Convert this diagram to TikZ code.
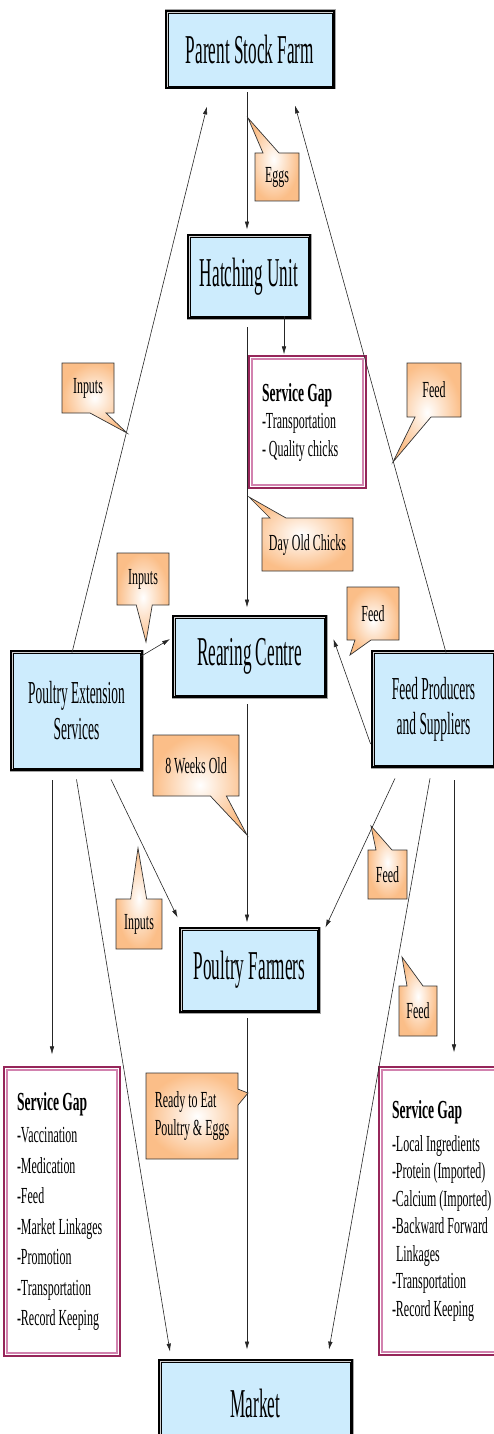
\documentclass[tikz,border=0pt]{standalone}
\usepackage{fontspec}
\setmainfont{Liberation Serif}[FakeStretch=0.52]
\newfontfamily\boxfont{Liberation Serif}[FakeStretch=0.42]
\usetikzlibrary{shapes.callouts,arrows.meta}

\definecolor{boxblue}{RGB}{205,236,253}
\definecolor{tagorange}{RGB}{251,190,136}
\definecolor{gapred}{RGB}{150,38,90}
\definecolor{gappink}{RGB}{210,130,175}

\begin{document}
\begin{tikzpicture}[x=1pt, y=-1pt,
    >={Latex[length=8pt,width=4.5pt]},
    flow/.style={->, black!85, line width=0.6pt},
    unit/.style={rectangle, fill=boxblue, draw=black, line width=0.8pt,
        preaction={draw=gray!70, line width=7pt},
        preaction={draw=black, line width=6pt},
        preaction={draw=gray!35, line width=2.2pt},
        align=center, inner sep=0pt, font=\boxfont\fontsize{41}{46}\selectfont},
    gap/.style={rectangle, fill=white, draw=gappink, line width=1.2pt,
        preaction={draw=gapred, line width=7.5pt},
        preaction={draw=white, line width=3.5pt},
        align=flush left, inner xsep=10pt, inner ysep=0pt},
    tag/.style={rectangle callout, draw=black!80, line width=0.7pt,
        inner color=white, outer color=tagorange,
        callout pointer width=16pt, inner sep=0pt, align=center,
        font=\fontsize{23}{28}\selectfont}
]
    % Page frame, same size as the reference
    \useasboundingbox (0,0) rectangle (493,1434);

    % Main stages of the chain, top to bottom
    \node[unit, minimum width=164pt, minimum height=73pt] (psf) at (250,49.5) {Parent Stock Farm};
    \node[unit, minimum width=118pt, minimum height=79pt] (hu) at (249,276.5) {Hatching Unit};
    \node[unit, minimum width=149pt, minimum height=77pt] (rc) at (249.5,656.5) {Rearing Centre};
    \node[unit, minimum width=135pt, minimum height=80pt] (pf) at (249.5,970) {Poultry Farmers};
    \node[unit, minimum width=189pt, minimum height=82pt] (mk) at (255.5,1403) {Market};

    % Side suppliers
    \node[unit, minimum width=127pt, minimum height=115pt,
          font=\boxfont\fontsize{32}{36}\selectfont] (pes) at (76.5,710.5) {Poultry Extension\\Services};
    \node[unit, minimum width=119pt, minimum height=112pt,
          font=\boxfont\fontsize{32}{35}\selectfont] (fps) at (433.5,709) {Feed Producers\\and Suppliers};

    % Service gap boxes
    \node[gap, text width=91pt, minimum height=126pt, font=\fontsize{23}{27.5}\selectfont] (gaphu) at (307.5,422)
        {{\bfseries\fontsize{26}{28}\selectfont Service Gap}\\-Transportation\\- Quality chicks};
    \node[gap, text width=90pt, minimum height=283pt, font=\fontsize{23}{30.5}\selectfont] (gappes) at (62,1211.5)
        {{\bfseries\fontsize{26}{28}\selectfont Service Gap}\\[2pt]-Vaccination\\-Medication\\-Feed\\-Market Linkages\\-Promotion\\-Transportation\\-Record Keeping};
    \node[gap, text width=107pt, minimum height=282pt, font=\fontsize{23}{27.5}\selectfont] (gapfps) at (445.5,1211)
        {{\bfseries\fontsize{26}{28}\selectfont Service Gap}\\[5pt]-Local Ingredients\\-Protein (Imported)\\-Calcium (Imported)\\-Backward Forward\\\hspace*{4pt}Linkages\\-Transportation\\-Record Keeping};

    % Flows between the stages
    \draw[flow] ([xshift=-3pt,yshift=-6pt]psf.south) -- ([xshift=-2pt,yshift=7pt]hu.north);
    \draw[flow] ([xshift=35pt]hu.south) -- ([xshift=-23.5pt,yshift=4pt]gaphu.north);
    \draw[flow] ([xshift=-2pt,yshift=-11pt]hu.south) -- ([xshift=-2.5pt,yshift=10pt]rc.north);
    \draw[flow] ([xshift=-2.5pt,yshift=-9pt]rc.south) -- ([xshift=-2.5pt,yshift=7pt]pf.north);
    \draw[flow] ([xshift=-2.5pt,yshift=-8pt]pf.south) -- ([xshift=-8.5pt,yshift=12pt]mk.north);

    % Flows out of the extension services
    \draw[flow] ([xshift=-4.5pt]pes.north) -- ([xshift=-43pt,yshift=-20pt]psf.south);
    \draw[flow] ([yshift=-4pt]pes.north east) -- ([xshift=-4.5pt,yshift=17.5pt]rc.west);
    \draw[flow] ([xshift=34.5pt,yshift=-11pt]pes.south) -- ([xshift=-4pt,yshift=12pt]pf.north west);
    \draw[flow] ([xshift=-24.5pt,yshift=-12pt]pes.south) -- ([xshift=-10pt,yshift=15pt]gappes.north);
    \draw[flow] ([yshift=-11pt]pes.south) -- ([xshift=-85.5pt,yshift=10pt]mk.north);

    % Flows out of the feed producers
    \draw[flow] ([xshift=12.5pt]fps.north) -- ([xshift=45pt,yshift=-19pt]psf.south);
    \draw[flow] ([xshift=-3pt,yshift=-35pt]fps.west) -- ([xshift=9pt,yshift=17.5pt]rc.east);
    \draw[flow] ([xshift=-38.5pt,yshift=-13pt]fps.south) -- ([xshift=8pt,yshift=2pt]pf.north east);
    \draw[flow] ([xshift=20.5pt,yshift=-15pt]fps.south) -- ([xshift=8.5pt,yshift=17pt]gapfps.north);
    \draw[flow] ([xshift=-3.5pt,yshift=-13pt]fps.south) -- ([xshift=73.5pt,yshift=12pt]mk.north);

    % Labels on the flows
    \node[tag, minimum width=44pt, minimum height=48pt, callout absolute pointer={(248,118)}] (eggs) at (277,177) {Eggs};
    \node[tag, minimum width=52pt, minimum height=50pt, callout absolute pointer={(127,433)}] (inputsa) at (88,388) {Inputs};
    \node[tag, minimum width=54pt, minimum height=54pt, callout absolute pointer={(393,462)}] (feeda) at (434,390) {Feed};
    \node[tag, minimum width=91pt, minimum height=53pt, callout absolute pointer={(249,497)}] (chicks) at (307.5,544.5) {Day Old Chicks};
    \node[tag, minimum width=52pt, minimum height=52pt, callout absolute pointer={(146,642)}] (inputsb) at (143,579) {Inputs};
    \node[tag, minimum width=52pt, minimum height=53pt, callout absolute pointer={(350,655)}] (feedb) at (373,613.5) {Feed};
    \node[tag, minimum width=86pt, minimum height=61pt, callout absolute pointer={(247,835)}] (weeks) at (196,765.5) {8 Weeks Old};
    \node[tag, minimum width=46pt, minimum height=50pt, callout absolute pointer={(138,848)}] (inputsc) at (139,924) {Inputs};
    \node[tag, minimum width=39pt, minimum height=49pt, callout absolute pointer={(371,826)}] (feedc) at (387.5,874.5) {Feed};
    \node[tag, minimum width=38pt, minimum height=50pt, callout absolute pointer={(402,957)}] (feedd) at (418,1011) {Feed};
    \node[tag, minimum width=92pt, minimum height=86pt, align=flush left, callout absolute pointer={(248,1093)}] (ready) at (192,1116)
        {Ready to Eat\\Poultry \& Eggs};

\end{tikzpicture}
\end{document}
